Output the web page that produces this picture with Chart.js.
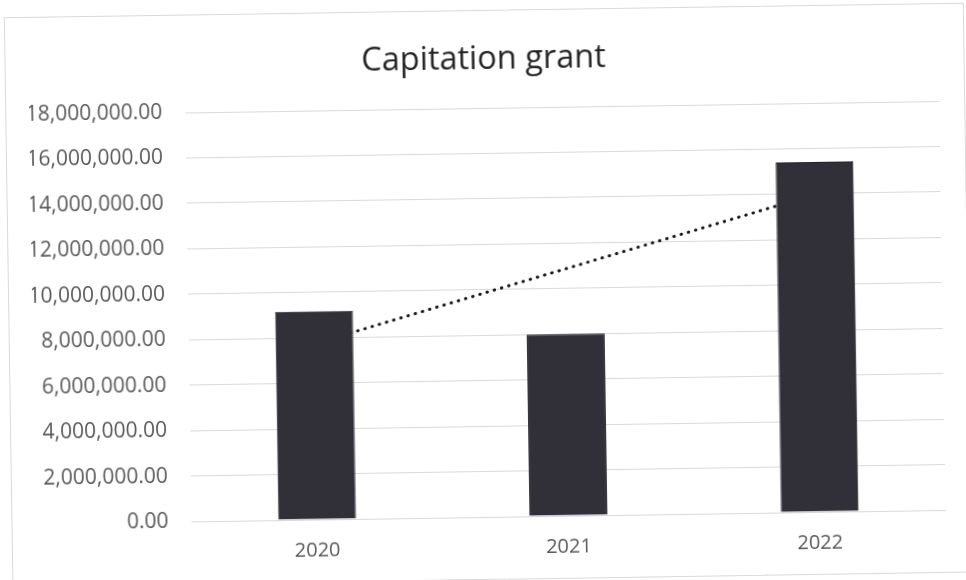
<!DOCTYPE html>
<html>
<head>
<meta charset="utf-8">
<title>Capitation grant</title>
<script src="https://cdn.jsdelivr.net/npm/chart.js@4/dist/chart.umd.min.js"></script>
<style>
    html, body {
        margin: 0;
        padding: 0;
        background: #ffffff;
        overflow: hidden;
    }
    /* Chart frame, tilted slightly like the scanned page */
    .chart-frame {
        position: absolute;
        left: 0;
        top: 0;
        width: 966px;
        height: 580px;
        transform: rotate(-0.87deg);
        transform-origin: 483px 290px;
    }
    .chart-border {
        position: absolute;
        left: 8px;
        top: 10px;
        width: 960px;
        height: 570px;
        border: 1px solid #d9d9d9;
        box-sizing: border-box;
    }
    #chart {
        position: absolute;
        left: 0;
        top: 0;
    }
</style>
</head>
<body>
<div class="chart-frame">
    <div class="chart-border"></div>
    <canvas id="chart" width="966" height="580"></canvas>
</div>
<script>
// Capitation grant received per year
const years = ['2020', '2021', '2022'];
const grantAmounts = [9170000, 8000000, 15400000];

// Y axis range and step
const yMin = 0;
const yMax = 18000000;
const yStep = 2000000;

const FONT = '"Open Sans", "Noto Sans", sans-serif';

/**
 * Least-squares linear trend over the category positions 1..n
 * @param {Array} values - bar values
 * @returns {Array} trend value at each category
 */
function linearTrend(values) {
    const n = values.length;
    const xs = values.map((_, i) => i + 1);
    const meanX = xs.reduce((a, b) => a + b, 0) / n;
    const meanY = values.reduce((a, b) => a + b, 0) / n;
    let num = 0;
    let den = 0;
    xs.forEach((x, i) => {
        num += (x - meanX) * (values[i] - meanY);
        den += (x - meanX) * (x - meanX);
    });
    const slope = num / den;
    const intercept = meanY - slope * meanX;
    return xs.map(x => intercept + slope * x);
}

const trendValues = linearTrend(grantAmounts);

const formatAmount = (value) =>
    Number(value).toLocaleString('en-US', { minimumFractionDigits: 2, maximumFractionDigits: 2 });

const config = {
    type: 'bar',
    data: {
        labels: years,
        datasets: [
            {
                label: 'Capitation grant',
                data: grantAmounts,
                backgroundColor: '#312f37',
                borderColor: '#25242b',
                borderWidth: 1,
                barPercentage: 0.31,
                categoryPercentage: 1.0,
                order: 0
            },
            {
                type: 'line',
                label: 'Linear trend',
                data: trendValues,
                borderColor: '#151515',
                borderWidth: 3,
                borderDash: [0.5, 7],
                borderCapStyle: 'round',
                pointRadius: 0,
                fill: false,
                order: 1
            }
        ]
    },
    options: {
        responsive: false,
        animation: false,
        layout: {
            padding: { left: 32, right: 24, top: 0, bottom: 9 }
        },
        scales: {
            x: {
                grid: { display: false },
                border: { display: false },
                ticks: {
                    color: '#595959',
                    padding: 11,
                    font: { family: FONT, size: 20 }
                }
            },
            y: {
                min: yMin,
                max: yMax,
                afterFit: (scale) => { scale.width = 156; },
                grid: {
                    color: '#d9d9d9',
                    lineWidth: 1,
                    drawTicks: false
                },
                border: { display: false },
                ticks: {
                    stepSize: yStep,
                    color: '#595959',
                    padding: 23,
                    font: { family: FONT, size: 21 },
                    callback: (value) => formatAmount(value)
                }
            }
        },
        plugins: {
            legend: { display: false },
            tooltip: { enabled: false },
            title: {
                display: true,
                text: 'Capitation grant',
                color: '#262626',
                font: { family: FONT, size: 32.5, weight: 'normal' },
                padding: { top: 40, bottom: 29 }
            }
        }
    }
};

new Chart(document.getElementById('chart'), config);
</script>
</body>
</html>
